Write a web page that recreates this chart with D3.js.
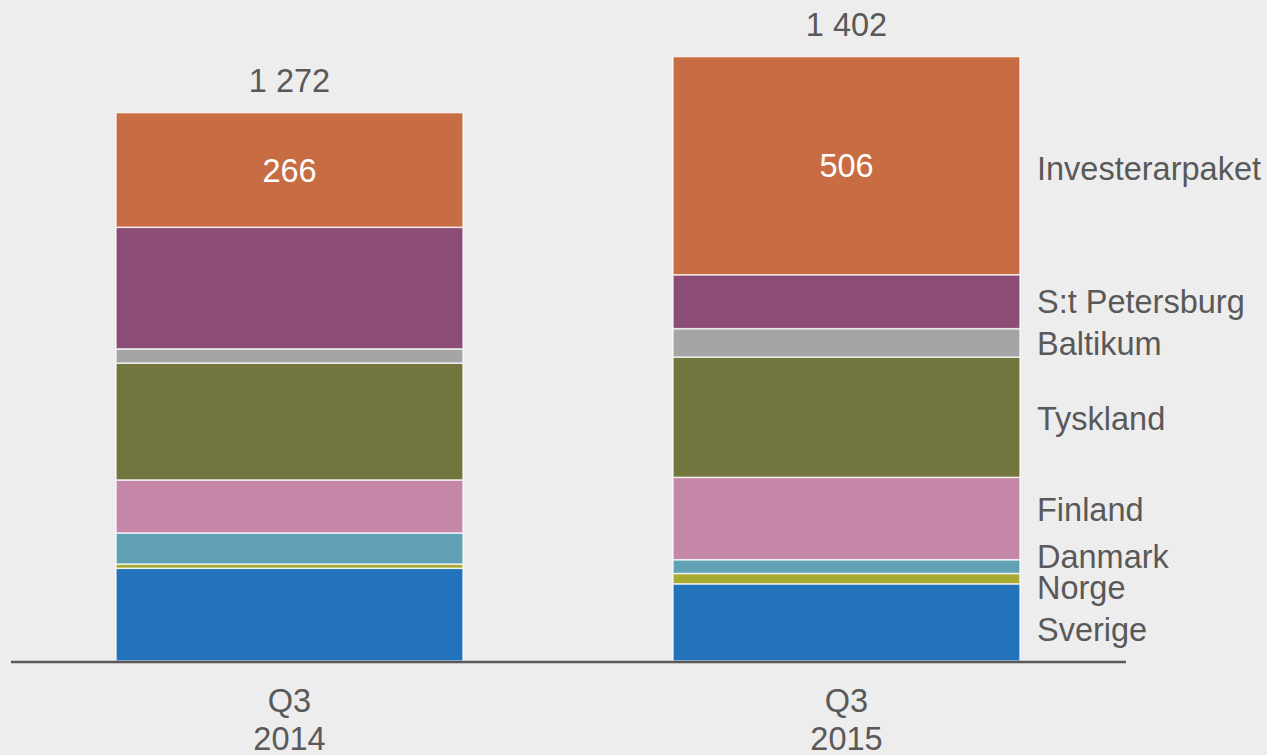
<!DOCTYPE html>
<html>
<head>
<meta charset="utf-8">
<script src="https://cdn.jsdelivr.net/npm/d3@7"></script>
<style>
  html, body { margin: 0; padding: 0; background: #ededed; }
  svg { display: block; font-family: "Liberation Sans", Arial, sans-serif; }
</style>
</head>
<body>
<svg id="chart" width="1267" height="755"></svg>
<script>
// ---- data ----
const periods = ["Q3 2014", "Q3 2015"];
const periodLines = [["Q3", "2014"], ["Q3", "2015"]];
const regions = ["Sverige", "Norge", "Danmark", "Finland", "Tyskland", "Baltikum", "S:t Petersburg", "Investerarpaket"];
const values2014 = [215, 10, 72, 123, 271, 33, 282, 266];
const values2015 = [179, 24, 32, 191, 279, 66, 125, 506];
const totals = [1272, 1402];
const totalLabels = ["1 272", "1 402"];

// ---- styles / layout ----
const colors = ["#2273bb", "#a9aa33", "#60a1b5", "#c487a8", "#72753d", "#a5a5a5", "#8b4d75", "#c86d43"];
const labelNudge = [7, 9, -10, -9, 1, 0, 0, 3];
const W = 1267, H = 755;
const base = 661;
const textColor = "#595959";
const fs = 32.5;

const svg = d3.select("#chart");

const rows = periods.map((p, i) => {
  const vals = i === 0 ? values2014 : values2015;
  const o = { period: p };
  regions.forEach((r, j) => o[r] = vals[j]);
  return o;
});

const stack = d3.stack().keys(regions);
const series = stack(rows);

const x = d3.scaleBand().domain(periods).range([116, 1020]).paddingInner(0.377).paddingOuter(0);
const y = d3.scaleLinear().domain([0, 1402]).range([base, 56.6]);
const color = d3.scaleOrdinal().domain(regions).range(colors);

// bars
const g = svg.append("g");
series.forEach(s => {
  g.selectAll(null).data(s).enter().append("rect")
    .attr("x", d => x(d.data.period))
    .attr("width", x.bandwidth())
    .attr("y", d => y(d[1]))
    .attr("height", d => y(d[0]) - y(d[1]))
    .attr("fill", color(s.key))
    .attr("stroke", "rgba(255,255,255,0.75)")
    .attr("stroke-width", 1.5);
});

// axis line
svg.append("line")
  .attr("x1", 11).attr("x2", 1126)
  .attr("y1", base + 1).attr("y2", base + 1)
  .attr("stroke", textColor).attr("stroke-width", 2.4);

// category labels
periods.forEach((p, i) => {
  const cx = x(p) + x.bandwidth() / 2;
  const t = svg.append("text")
    .attr("x", cx).attr("text-anchor", "middle")
    .attr("fill", textColor).attr("font-size", fs);
  t.append("tspan").attr("x", cx).attr("y", 712).text(periodLines[i][0]);
  t.append("tspan").attr("x", cx).attr("y", 749.5).text(periodLines[i][1]);
});

// totals
periods.forEach((p, i) => {
  svg.append("text")
    .attr("x", x(p) + x.bandwidth() / 2)
    .attr("y", y(totals[i]) - 20.5)
    .attr("text-anchor", "middle")
    .attr("fill", textColor).attr("font-size", fs)
    .text(totalLabels[i]);
});

// Investerarpaket value labels inside bars
const inv = series[series.length - 1];
inv.forEach(d => {
  svg.append("text")
    .attr("x", x(d.data.period) + x.bandwidth() / 2)
    .attr("y", (y(d[0]) + y(d[1])) / 2)
    .attr("dy", "0.36em")
    .attr("text-anchor", "middle")
    .attr("fill", "#ffffff").attr("font-size", fs)
    .text(d.data["Investerarpaket"]);
});

// series labels to the right of the last bar
series.forEach((s, j) => {
  const d = s[s.length - 1];
  svg.append("text")
    .attr("x", 1037)
    .attr("y", (y(d[0]) + y(d[1])) / 2 + labelNudge[j])
    .attr("dy", "0.36em")
    .attr("fill", textColor).attr("font-size", fs)
    .text(s.key);
});
</script>
</body>
</html>
